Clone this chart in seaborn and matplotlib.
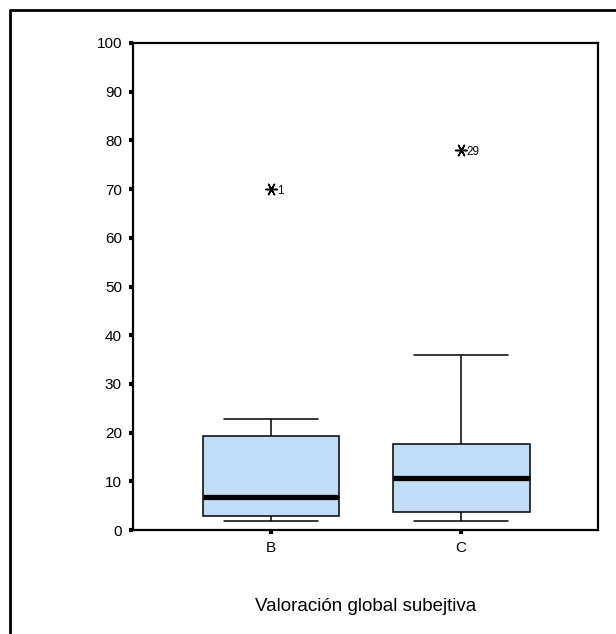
import matplotlib
matplotlib.use("Agg")
import matplotlib.pyplot as plt
import pandas as pd
import seaborn as sns
from matplotlib.lines import Line2D

sns.set_style("white")
plt.rcParams['font.family'] = ['Liberation Sans', 'DejaVu Sans']
plt.rcParams['text.color'] = 'black'
plt.rcParams['axes.labelcolor'] = 'black'
plt.rcParams['xtick.color'] = 'black'
plt.rcParams['ytick.color'] = 'black'

# resumen de cada caja: mínimo, Q1, mediana, Q3, máximo
grupos = ["B", "C"]
resumen_B = [1.9, 2.9, 6.8, 19.4, 22.7]
resumen_C = [1.9, 3.8, 10.7, 17.7, 35.9]
atipicos_grupo = ["B", "C"]
atipicos_valor = [70, 78]
atipicos_caso = ["1", "29"]
ticks_y = [0, 10, 20, 30, 40, 50, 60, 70, 80, 90, 100]

df = pd.DataFrame({
    "grupo": ["B"] * len(resumen_B) + ["C"] * len(resumen_C),
    "valor": resumen_B + resumen_C,
})
df_at = pd.DataFrame({"grupo": atipicos_grupo, "valor": atipicos_valor})

fig = plt.figure(figsize=(6.16, 6.34), dpi=100)
ax = fig.add_axes([0.2159, 0.164, 0.7549, 0.7682])

sns.boxplot(data=df, x="grupo", y="valor", order=grupos, width=0.72,
            color="#C3DCF5", saturation=1, linecolor="black", linewidth=1.1,
            showfliers=False, medianprops={"linewidth": 3.8, "color": "black"},
            ax=ax)

# acortar las tapas de los bigotes
for ln in ax.lines:
    xd = ln.get_xdata()
    yd = ln.get_ydata()
    if len(xd) == 2 and yd[0] == yd[1] and abs(xd[1] - xd[0]) < 0.6:
        c = (xd[0] + xd[1]) / 2
        ln.set_xdata([c - 0.247, c + 0.247])

sns.stripplot(data=df_at, x="grupo", y="valor", order=grupos, jitter=False,
              marker=(6, 2, 30), s=8.5, color="black", edgecolor="black",
              linewidth=1.1, ax=ax)

for g, v, caso in zip(atipicos_grupo, atipicos_valor, atipicos_caso):
    ax.text(grupos.index(g) + 0.03, v - 0.3, caso, fontsize=8.5, va="center",
            ha="left", color="black")

ax.set_ylim(0, 100)
ax.set_xlim(-0.726, 1.72)
ax.set_yticks(ticks_y)
ax.set_xticks(range(len(grupos)))
ax.set_xticklabels(grupos)
ax.tick_params(axis="both", direction="out", length=3, width=3, labelsize=11,
               color="black", labelcolor="black", pad=5, left=True, bottom=True)
ax.set_ylabel("")
ax.set_xlabel("Valoración global subejtiva", fontsize=13.5, labelpad=31,
              color="black")
for sp in ax.spines.values():
    sp.set_visible(True)
    sp.set_color("black")
    sp.set_linewidth(1.6)

# marco exterior (solo izquierda y arriba visibles)
fig.add_artist(Line2D([0.0165, 0.0165, 1.01], [-0.01, 0.984, 0.984],
                      transform=fig.transFigure, color="black", linewidth=2))

fig.savefig("out.png", dpi=100)
